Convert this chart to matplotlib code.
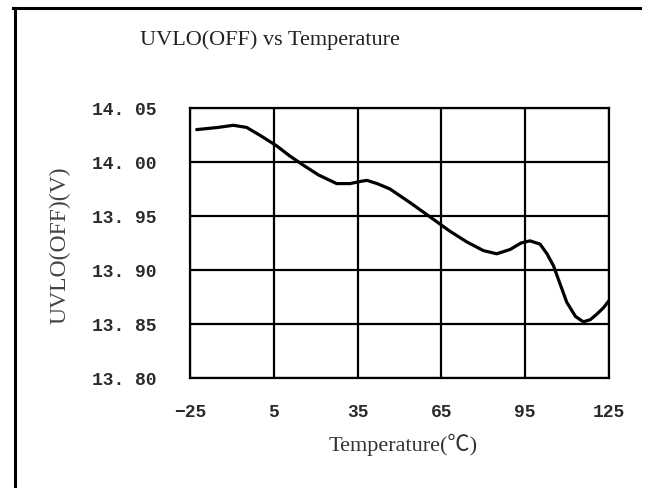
import matplotlib
matplotlib.use("Agg")
from matplotlib import pyplot as plt
from matplotlib.lines import Line2D
import numpy as np

# curve
temps = [-22.6, -15.0, -9.5, -4.7, 0.5, 6.0, 10.5, 15.6, 21.0, 27.5, 32.3,
         36.0, 38.3, 42.0, 46.6, 54.0, 62.1, 68.0, 74.1, 80.0, 84.8, 89.6,
         93.5, 96.7, 100.3, 102.8, 105.1, 107.5, 109.9, 113.0, 115.8, 118.3,
         120.6, 123.0, 125.4]
uvlo = [14.030, 14.032, 14.034, 14.032, 14.024, 14.015, 14.006, 13.997,
        13.988, 13.980, 13.980, 13.982, 13.983, 13.980, 13.975, 13.962,
        13.947, 13.936, 13.926, 13.918, 13.915, 13.919, 13.925, 13.927,
        13.924, 13.915, 13.904, 13.887, 13.870, 13.857, 13.852, 13.854,
        13.859, 13.865, 13.873]

x_ticks = [-25, 5, 35, 65, 95, 125]
y_ticks = [13.80, 13.85, 13.90, 13.95, 14.00, 14.05]
y_labels = ["13. 80", "13. 85", "13. 90", "13. 95", "14. 00", "14. 05"]

W, H = 648, 489
fig = plt.figure(figsize=(W / 100, H / 100), dpi=100)
ax = fig.add_axes([190 / W, 1 - 379 / H, 419 / W, 270 / H])

ax.plot(temps, uvlo, color="black", lw=2.3, solid_capstyle="round",
        solid_joinstyle="round")
ax.set_xlim(-25, 125)
ax.set_ylim(13.80, 14.05)
ax.set_xticks(x_ticks)
ax.set_yticks(y_ticks)
ax.set_yticklabels(y_labels)
ax.grid(True, color="black", lw=1.6)
ax.tick_params(length=0, labelsize=13, labelcolor="#2a2a2a")
ax.tick_params(axis="x", pad=18)
ax.tick_params(axis="y", pad=24)
for lbl in ax.get_xticklabels() + ax.get_yticklabels():
    lbl.set_family("Liberation Mono")
    lbl.set_weight("bold")
for sp in ax.spines.values():
    sp.set_linewidth(1.6)

fig.text(270 / W, 1 - 40 / H, "UVLO(OFF) vs Temperature", ha="center",
         va="center", family="Liberation Serif", fontsize=16, color="#222222")
fig.text(403 / W, 1 - 445 / H, "Temperature(\u2103)", ha="center",
         va="center", family=["Liberation Serif", "Noto Sans CJK SC"],
         fontsize=16, color="#333333")
fig.text(60 / W, 1 - 245 / H, "UVLO(OFF)(V)", ha="center", va="center",
         rotation=90, family="Liberation Serif", fontsize=17, color="#444444")

# outer frame (top and left edges only)
fig.add_artist(Line2D([13 / W, 640 / W], [1 - 9 / H, 1 - 9 / H],
                      color="black", lw=2.2, transform=fig.transFigure))
fig.add_artist(Line2D([15 / W, 15 / W], [1 - 9 / H, 0],
                      color="black", lw=2.2, transform=fig.transFigure))

fig.savefig("out.png", dpi=100)
